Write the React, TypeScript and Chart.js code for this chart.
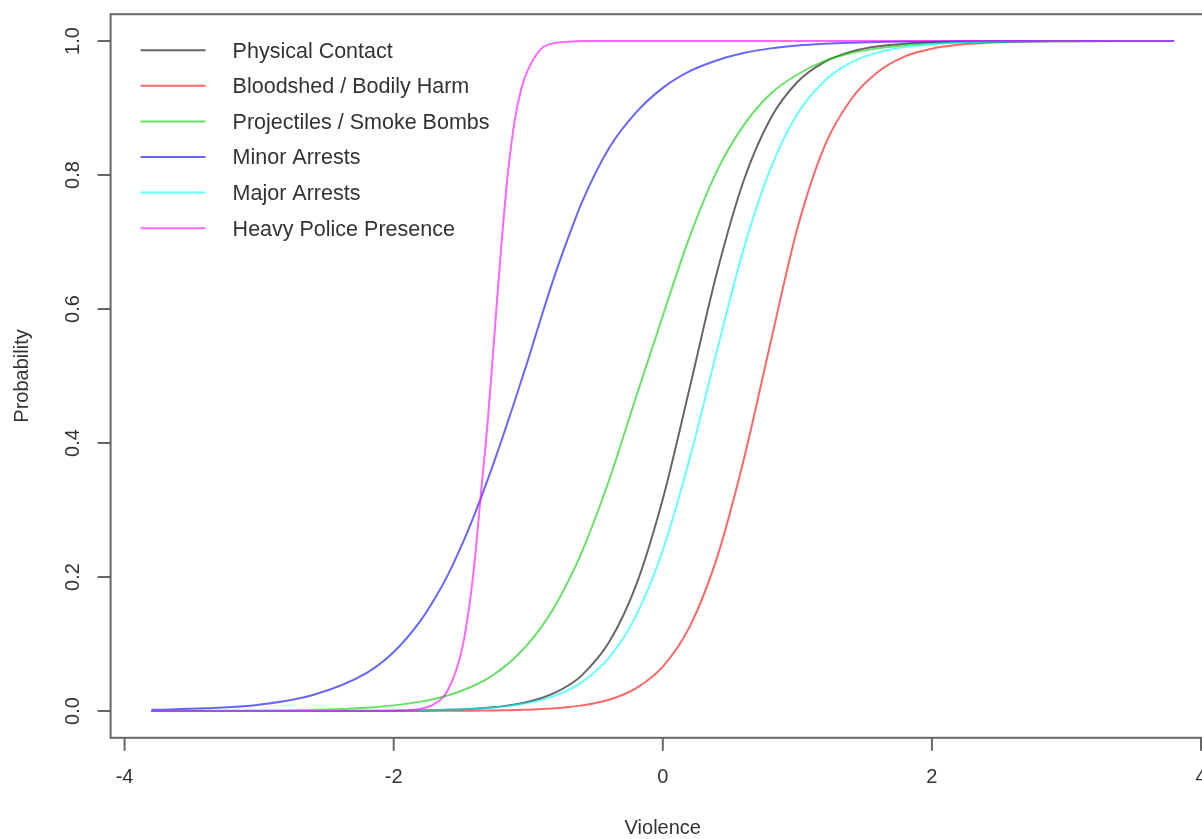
import React, { useEffect, useRef } from 'react';
import { Chart, registerables } from 'chart.js';

Chart.register(...registerables);

const X_VALUES = [
  -3.8, -3.4, -3.0, -2.6, -2.2,
  -2.0, -1.8, -1.7, -1.6, -1.5,
  -1.45, -1.4, -1.35, -1.3, -1.25,
  -1.2, -1.15, -1.1, -1.05, -1.0,
  -0.9, -0.8, -0.7, -0.6, -0.4,
  -0.2, 0, 0.2, 0.4, 0.6,
  0.8, 1.0, 1.2, 1.4, 1.6,
  1.8, 2.0, 2.2, 2.5, 3.0,
  3.4, 3.8,
];

const PHYSICAL_CONTACT = [
  0, 0, 0, 0.0001, 0.0002,
  0.0004, 0.0009, 0.0012, 0.0017, 0.0024,
  0.0029, 0.0034, 0.0041, 0.0049, 0.0058,
  0.0069, 0.0082, 0.0098, 0.0116, 0.0138,
  0.0195, 0.0274, 0.0384, 0.0536, 0.1025,
  0.187, 0.3165, 0.4825, 0.6525, 0.791,
  0.884, 0.9388, 0.9686, 0.9842, 0.9921,
  0.996, 0.998, 0.999, 0.9997, 1,
  1, 1,
];

const BLOODSHED = [
  0, 0, 0, 0, 0,
  0.0001, 0.0001, 0.0002, 0.0002, 0.0003,
  0.0004, 0.0005, 0.0006, 0.0007, 0.0008,
  0.001, 0.0012, 0.0014, 0.0017, 0.002,
  0.0029, 0.0041, 0.0059, 0.0084, 0.0169,
  0.0339, 0.0663, 0.126, 0.227, 0.374,
  0.549, 0.72, 0.842, 0.913, 0.954,
  0.977, 0.9885, 0.9943, 0.998, 0.9997,
  1, 1,
];

const PROJECTILES = [
  0.0001, 0.0002, 0.0006, 0.0018, 0.005,
  0.0084, 0.014, 0.018, 0.0232, 0.0299,
  0.0339, 0.0382, 0.0431, 0.0488, 0.0552,
  0.0625, 0.0704, 0.0794, 0.0895, 0.1006,
  0.126, 0.157, 0.195, 0.238, 0.344,
  0.468, 0.59, 0.708, 0.805, 0.874,
  0.921, 0.95, 0.97, 0.982, 0.989,
  0.9935, 0.9961, 0.9977, 0.9989, 0.9997,
  0.9999, 1,
];

const MINOR_ARRESTS = [
  0.0017, 0.004, 0.0095, 0.024, 0.057,
  0.088, 0.135, 0.166, 0.202, 0.245,
  0.268, 0.293, 0.319, 0.346, 0.374,
  0.403, 0.433, 0.463, 0.494, 0.525,
  0.59, 0.652, 0.708, 0.76, 0.84,
  0.893, 0.93, 0.955, 0.971, 0.982,
  0.989, 0.9933, 0.9959, 0.9975, 0.9985,
  0.9991, 0.9994, 0.9996, 0.9998, 1,
  1, 1,
];

const MAJOR_ARRESTS = [
  0, 0, 0, 0.0001, 0.0003,
  0.0005, 0.0009, 0.0013, 0.0018, 0.0024,
  0.0028, 0.0033, 0.0039, 0.0046, 0.0054,
  0.0064, 0.0075, 0.0088, 0.0103, 0.0121,
  0.0166, 0.023, 0.0314, 0.0431, 0.0794,
  0.142, 0.24, 0.377, 0.536, 0.689,
  0.809, 0.891, 0.94, 0.968, 0.983,
  0.991, 0.9953, 0.9975, 0.9991, 0.9998,
  1, 1,
];

const HEAVY_POLICE = [
  0, 0, 0, 0, 0,
  0.0004, 0.0034, 0.0103, 0.0303, 0.0859,
  0.14, 0.22, 0.328, 0.435, 0.565,
  0.695, 0.805, 0.882, 0.93, 0.958,
  0.989, 0.997, 0.999, 1, 1,
  1, 1, 1, 1, 1,
  1, 1, 1, 1, 1,
  1, 1, 1, 1, 1,
  1, 1,
];

const SERIES_LABELS = [
  'Physical Contact',
  'Bloodshed / Bodily Harm',
  'Projectiles / Smoke Bombs',
  'Minor Arrests',
  'Major Arrests',
  'Heavy Police Presence',
];
const SERIES_VALUES = [PHYSICAL_CONTACT, BLOODSHED, PROJECTILES, MINOR_ARRESTS, MAJOR_ARRESTS, HEAVY_POLICE];
const SERIES_COLORS = [
  'rgba(0,0,0,0.6)',
  'rgba(255,0,0,0.6)',
  'rgba(0,205,0,0.6)',
  'rgba(0,0,255,0.6)',
  'rgba(0,255,255,0.6)',
  'rgba(255,0,255,0.6)',
];

const X_TICKS = [-4, -2, 0, 2, 4];
const X_TICK_LABELS = ['-4', '-2', '0', '2', '4'];
const Y_TICKS = [0, 0.2, 0.4, 0.6, 0.8, 1.0];
const Y_TICK_LABELS = ['0.0', '0.2', '0.4', '0.6', '0.8', '1.0'];
const X_TITLE = 'Violence';
const Y_TITLE = 'Probability';

const FONT = '"Liberation Sans", Arial, Helvetica, sans-serif';
const TEXT_COLOR = '#333';
const AXIS_COLOR = '#666';

const rAxesPlugin = {
  id: 'rAxes',
  afterDraw(chart: any) {
    const { ctx, chartArea: a, scales } = chart;
    const xs = scales.x;
    const ys = scales.y;
    ctx.save();
    // box
    ctx.strokeStyle = AXIS_COLOR;
    ctx.lineWidth = 2;
    ctx.strokeRect(a.left, a.top, a.right - a.left, a.bottom - a.top);

    // x axis ticks & labels
    ctx.fillStyle = TEXT_COLOR;
    ctx.font = `20px ${FONT}`;
    ctx.textAlign = 'center';
    ctx.textBaseline = 'middle';
    X_TICKS.forEach((v, i) => {
      const px = xs.getPixelForValue(v);
      ctx.beginPath();
      ctx.moveTo(px, a.bottom);
      ctx.lineTo(px, a.bottom + 13);
      ctx.stroke();
      ctx.fillText(X_TICK_LABELS[i], px, a.bottom + 40);
    });
    // y axis ticks & labels
    Y_TICKS.forEach((v, i) => {
      const py = ys.getPixelForValue(v);
      ctx.beginPath();
      ctx.moveTo(a.left - 13, py);
      ctx.lineTo(a.left, py);
      ctx.stroke();
      ctx.save();
      ctx.translate(a.left - 37, py);
      ctx.rotate(-Math.PI / 2);
      ctx.fillText(Y_TICK_LABELS[i], 0, 0);
      ctx.restore();
    });
    // titles
    ctx.fillText(X_TITLE, xs.getPixelForValue(0), a.bottom + 91);
    ctx.save();
    ctx.translate(22, (a.top + a.bottom) / 2);
    ctx.rotate(-Math.PI / 2);
    ctx.fillText(Y_TITLE, 0, 0);
    ctx.restore();

    // legend (top-left, no box)
    ctx.font = `21.5px ${FONT}`;
    ctx.textAlign = 'left';
    chart.data.datasets.forEach((ds: any, i: number) => {
      const y = a.top + 36 + i * 35.6;
      ctx.strokeStyle = ds.borderColor;
      ctx.lineWidth = 2;
      ctx.beginPath();
      ctx.moveTo(a.left + 30, y);
      ctx.lineTo(a.left + 95, y);
      ctx.stroke();
      ctx.fillStyle = TEXT_COLOR;
      ctx.fillText(ds.label, a.left + 122, y + 1.5);
    });
    ctx.restore();
  },
};

export default function App() {
  const ref = useRef<HTMLCanvasElement>(null);
  useEffect(() => {
    if (!ref.current) return;
    const chart = new Chart(ref.current, {
      type: 'line',
      data: {
        datasets: SERIES_LABELS.map((label, i) => ({
          label,
          data: X_VALUES.map((x, j) => ({ x, y: SERIES_VALUES[i][j] })),
          borderColor: SERIES_COLORS[i],
          backgroundColor: SERIES_COLORS[i],
          borderWidth: 2,
          pointRadius: 0,
          fill: false,
          cubicInterpolationMode: 'monotone' as const,
          order: SERIES_LABELS.length - i,
        })),
      },
      options: {
        responsive: false,
        animation: false,
        devicePixelRatio: 1,
        layout: { padding: { left: 110.6, top: 14.2, right: 25, bottom: 101.2 } },
        scales: {
          x: { type: 'linear', min: -4.104, max: 4.104, display: false },
          y: { type: 'linear', min: -0.04, max: 1.04, display: false },
        },
        plugins: {
          legend: { display: false },
          tooltip: { enabled: false },
        },
      },
      plugins: [rAxesPlugin],
    });
    return () => chart.destroy();
  }, []);
  return (
    <div
      style={{
        position: 'fixed',
        left: 0,
        top: 0,
        width: 1202,
        height: 839,
        overflow: 'hidden',
        background: '#fff',
      }}
    >
      <canvas ref={ref} width={1240} height={839} style={{ display: 'block', width: 1240, height: 839 }} />
    </div>
  );
}
